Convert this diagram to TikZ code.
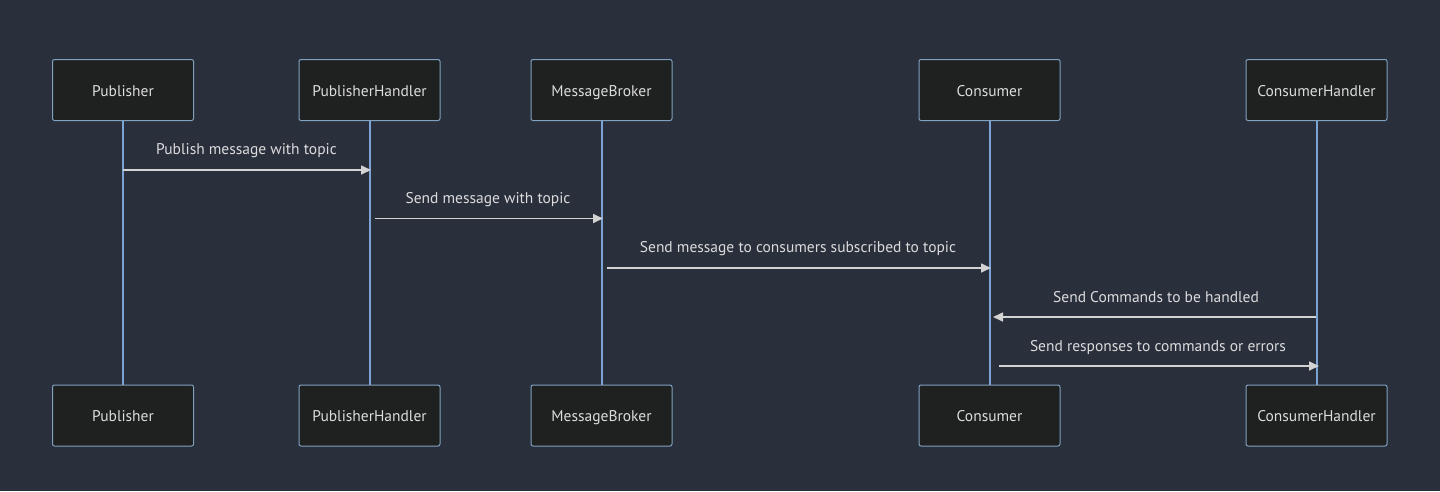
\documentclass[tikz,border=0pt]{standalone}
\usepackage{fontspec}
\setmainfont{PT Sans}
\usetikzlibrary{arrows.meta}
\definecolor{bg}{HTML}{2A2F3C}
\definecolor{boxfill}{HTML}{1F2020}
\definecolor{boxline}{HTML}{81A1C1}
\definecolor{lifec}{HTML}{7BA3D3}
\definecolor{txt}{HTML}{DCDCDC}
\definecolor{msgc}{HTML}{D3D3D3}
\tikzset{
  actor/.style={draw=boxline, line width=1pt, fill=boxfill, rounded corners=2pt,
    minimum width=141pt, minimum height=61pt, inner sep=0pt, text=txt,
    text height=16pt, text depth=3.5pt,
    font=\fontsize{15.5pt}{18pt}\selectfont},
  life/.style={draw=lifec, line width=2pt},
  msg/.style={draw=msgc, line width=1.6pt, -{Triangle[length=10pt,width=9pt]}},
  lbl/.style={text=txt, font=\fontsize{15.5pt}{18pt}\selectfont, inner sep=0pt,
    text height=16pt, text depth=3.5pt}
}
\begin{document}
\begin{tikzpicture}[x=1pt,y=-1pt]
\fill[bg] (0,0) rectangle (1440,491);
\useasboundingbox (0,0) rectangle (1440,491);
% actors top
\node[actor] (pt) at (123,90) {Publisher};
\node[actor] (ht) at (369.5,90) {PublisherHandler};
\node[actor] (mt) at (601.5,90) {MessageBroker};
\node[actor] (ct) at (989.5,90) {Consumer};
\node[actor] (cht) at (1316.5,90) {ConsumerHandler};
% actors bottom
\node[actor] (pb) at (123,415.5) {Publisher};
\node[actor] (hb) at (369.5,415.5) {PublisherHandler};
\node[actor] (mb) at (601.5,415.5) {MessageBroker};
\node[actor] (cb) at (989.5,415.5) {Consumer};
\node[actor] (chb) at (1316.5,415.5) {ConsumerHandler};
% lifelines
\draw[life] (pt.south) -- (pb.north);
\draw[life] (ht.south) -- (hb.north);
\draw[life] (mt.south) -- (mb.north);
\draw[life] (ct.south) -- (cb.north);
\draw[life] (cht.south) -- (chb.north);
% message end points
\coordinate (m1a) at (123,170); \coordinate (m1b) at (371,170);
\coordinate (m2a) at (375,218.5); \coordinate (m2b) at (603,218.5);
\coordinate (m3a) at (607,268); \coordinate (m3b) at (991,268);
\coordinate (m4a) at (1316,317); \coordinate (m4b) at (993,317);
\coordinate (m5a) at (999,366); \coordinate (m5b) at (1319,366);
\draw[msg] (m1a) -- (m1b);
\draw[msg] (m2a) -- (m2b);
\draw[msg] (m3a) -- (m3b);
\draw[msg] (m4a) -- (m4b);
\draw[msg] (m5a) -- (m5b);
% labels
\node[lbl] (l1) at (246.5,148) {Publish message with topic};
\node[lbl] (l2) at (488,197) {Send message with topic};
\node[lbl] (l3) at (798,246) {Send message to consumers subscribed to topic};
\node[lbl] (l4) at (1156,296) {Send Commands to be handled};
\node[lbl] (l5) at (1158,345) {Send responses to commands or errors};
\end{tikzpicture}
\end{document}
